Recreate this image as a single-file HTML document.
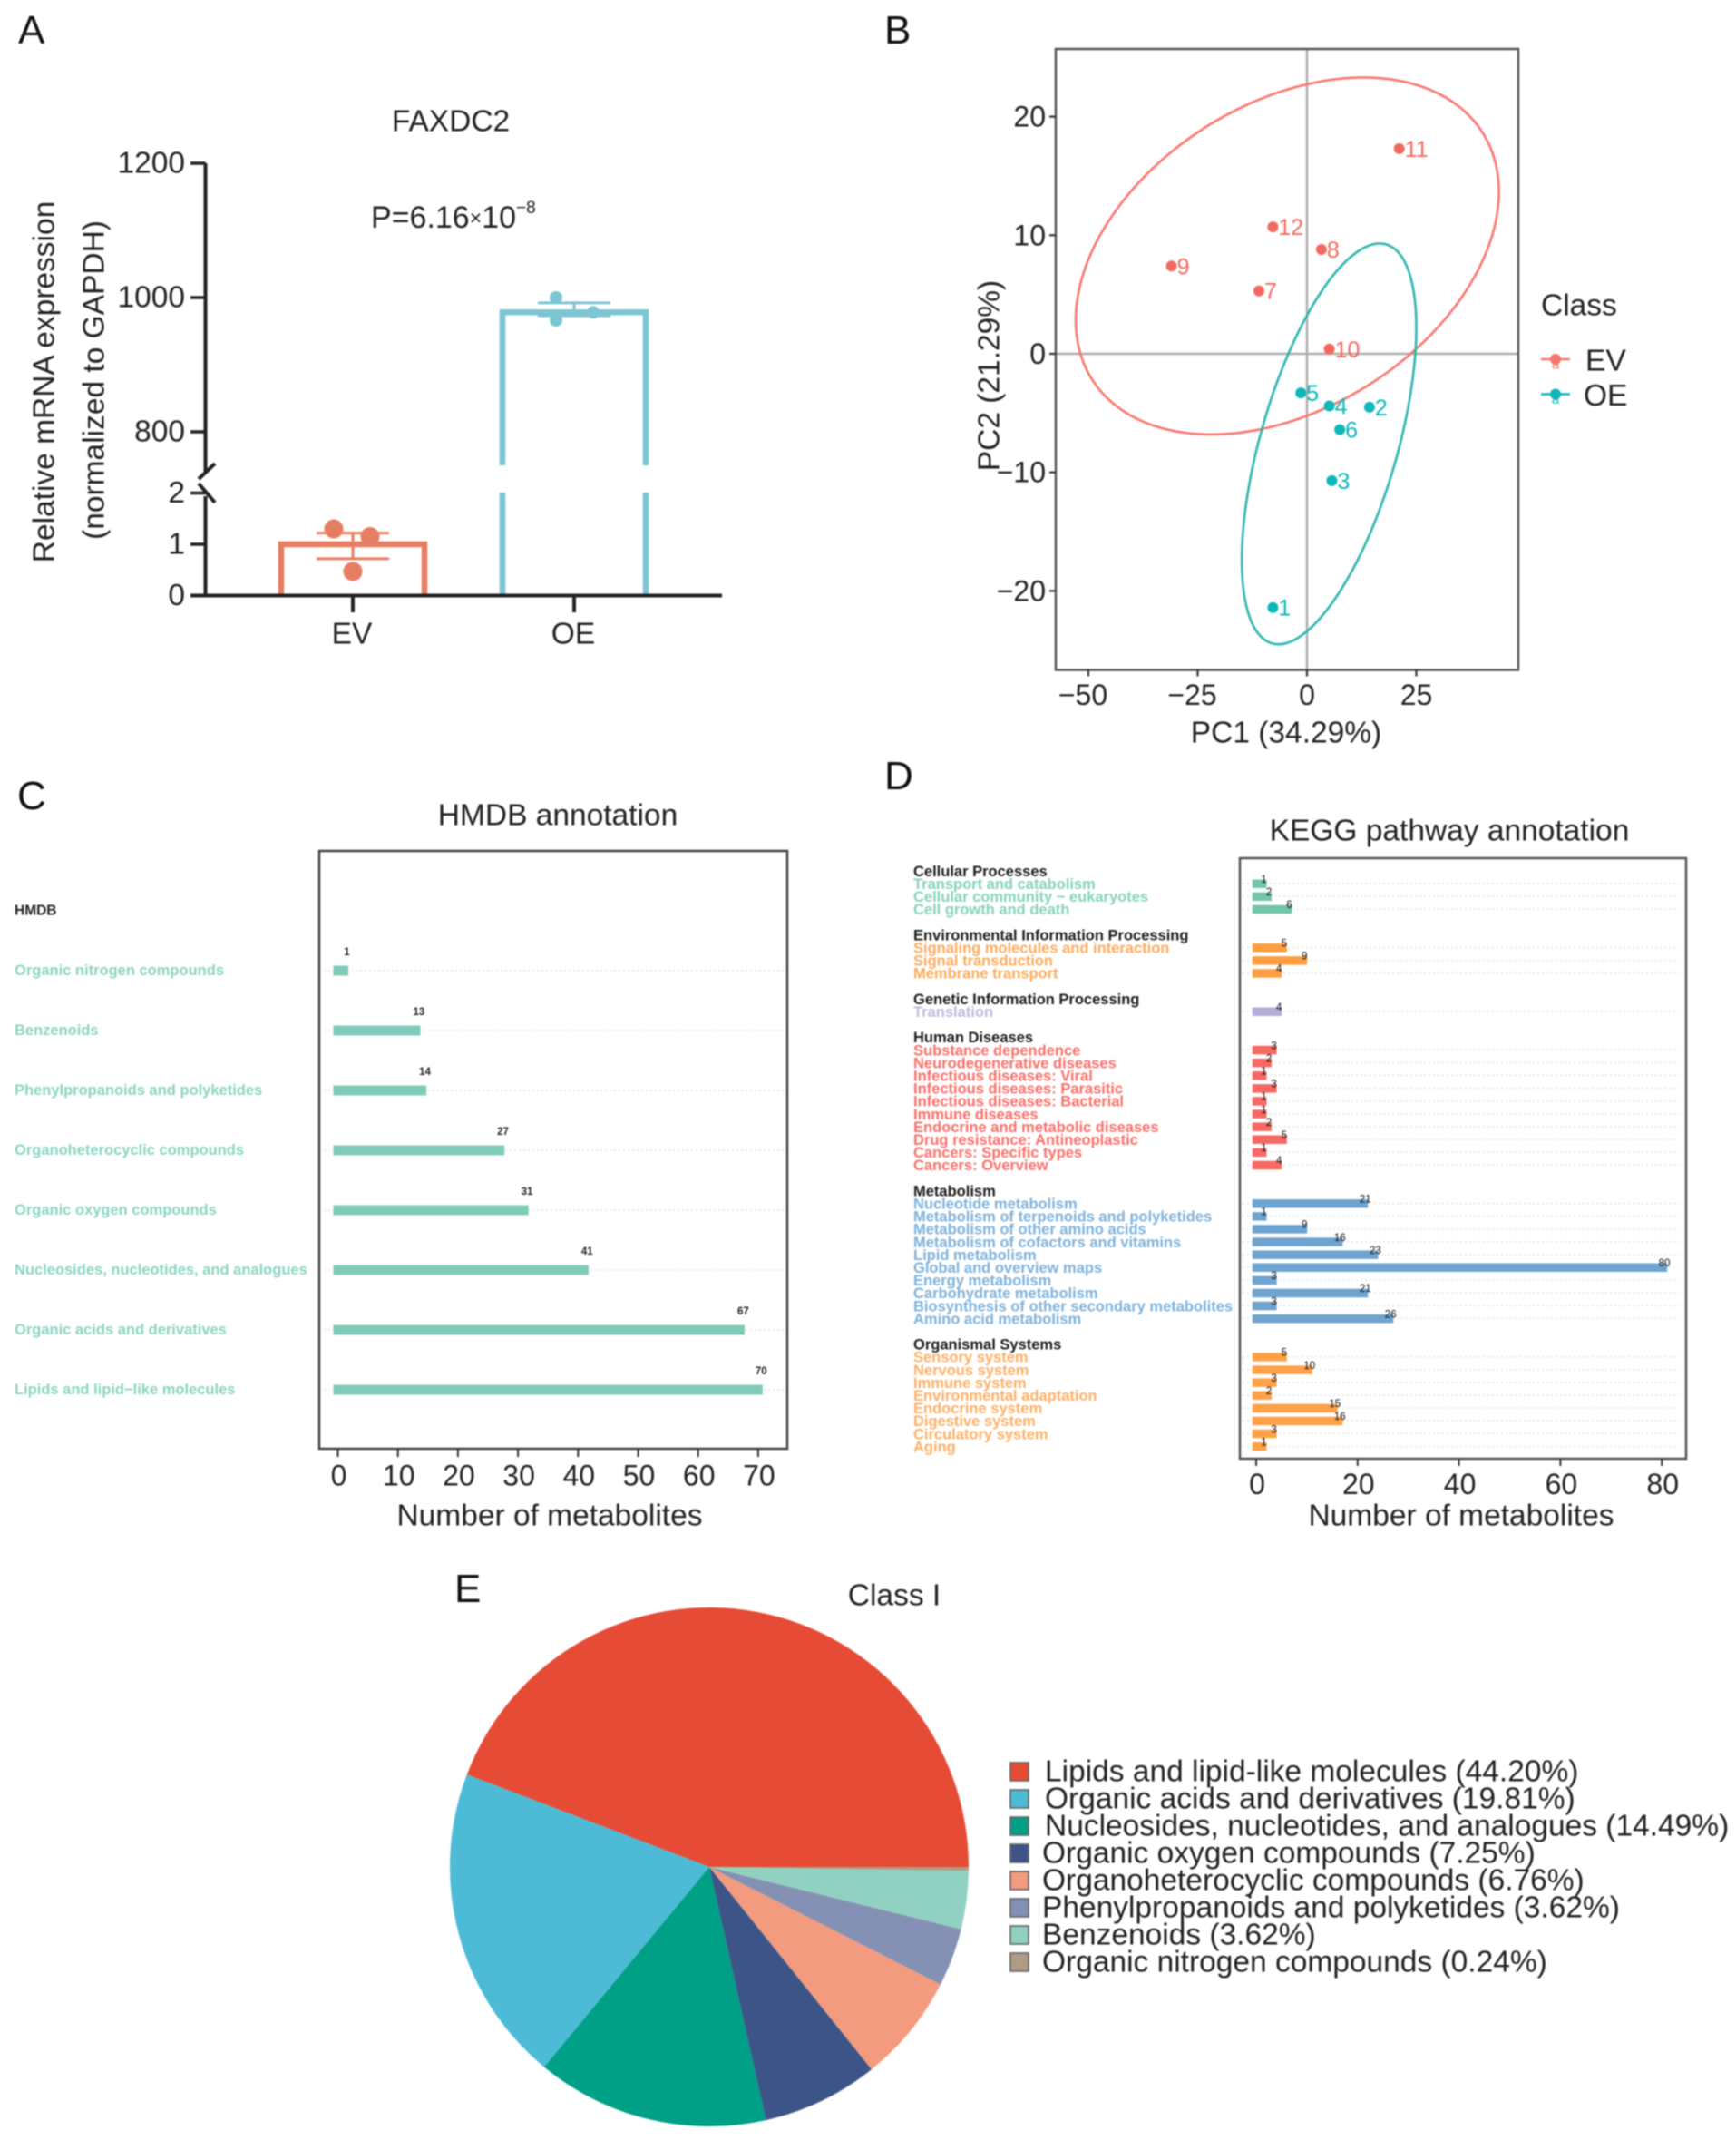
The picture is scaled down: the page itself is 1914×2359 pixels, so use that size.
<!DOCTYPE html>
<html lang="en">
<head>
<meta charset="utf-8">
<title>FAXDC2 metabolomics figure</title>
<style>
html,body{margin:0;padding:0;background:#fff;width:1914px;height:2359px;overflow:hidden}
svg{display:block;filter:blur(0.8px)}
text{font-family:"Liberation Sans",Arial,sans-serif;fill:#222}
.c{text-anchor:middle;dominant-baseline:central}
.r{text-anchor:end;dominant-baseline:central}
.l{text-anchor:start;dominant-baseline:central}
.letter{font-size:44px;fill:#111}
.t33{font-size:33.5px}
.t32{font-size:32px}
</style>
</head>
<body>
<svg id="figure" xmlns="http://www.w3.org/2000/svg" width="1914" height="2359" viewBox="0 0 1914 2359">
  <rect x="0" y="0" width="1914" height="2359" fill="#fff"/>

  <g id="panelA">
    <text class="letter" x="20" y="48">A</text>
    <text class="c t33" x="497" y="134">FAXDC2</text>
    <text class="l" font-size="34" x="409" y="240">P=6.16<tspan font-size="23">×</tspan>10<tspan font-size="19" dy="-11">−8</tspan></text>
    <text class="c t33" transform="translate(49,421) rotate(-90)">Relative mRNA expression</text>
    <text class="c t33" transform="translate(104,419) rotate(-90)">(normalized to GAPDH)</text>
  </g>

  <g id="panelB">
    <text class="letter" x="975" y="48">B</text>
    <text class="c t33" x="1418" y="808">PC1 (34.29%)</text>
    <text class="c t33" transform="translate(1091,414) rotate(-90)">PC2 (21.29%)</text>
    <text class="l t33" x="1699" y="337">Class</text>
  </g>

  <g id="panelC">
    <text class="letter" x="19" y="892">C</text>
    <text class="c t33" x="615" y="899">HMDB annotation</text>
    <text class="c t33" x="606" y="1671">Number of metabolites</text>
    <text class="l" x="16" y="1004" font-size="15.5" font-weight="bold">HMDB</text>
  </g>

  <g id="panelD">
    <text class="letter" x="975" y="870">D</text>
    <text class="c t33" x="1598" y="916">KEGG pathway annotation</text>
    <text class="c t33" x="1611" y="1671">Number of metabolites</text>
  </g>

  <g id="panelE">
    <text class="letter" x="501" y="1766">E</text>
    <text class="c t33" x="986" y="1759">Class I</text>
  </g>
</svg>

<script>
/* ---------- Panel A data ---------- */
const barCategories = ['EV', 'OE'];
const barMeans = [1, 978];
const barErrorLow = [0.72, 973];
const barErrorHigh = [1.22, 992];
const barReplicatesEV = [1.3, 1.15, 0.47];
const barReplicatesOE = [1000, 978, 966];
const barTicksLower = [0, 1, 2];
const barTicksUpper = [800, 1000, 1200];

/* ---------- Panel B data ---------- */
const pcaLabels = ['1', '2', '3', '4', '5', '6', '7', '8', '9', '10', '11', '12'];
const pcaClass = ['OE', 'OE', 'OE', 'OE', 'OE', 'OE', 'EV', 'EV', 'EV', 'EV', 'EV', 'EV'];
const pcaPC1 = [-7.8, 14.3, 5.7, 5.1, -1.4, 7.5, -11, 3.3, -31, 5.1, 21.1, -7.8];
const pcaPC2 = [-21.4, -4.5, -10.7, -4.4, -3.3, -6.4, 5.3, 8.8, 7.4, 0.4, 17.3, 10.7];
const pcaXTicks = [-50, -25, 0, 25];
const pcaYTicks = [-20, -10, 0, 10, 20];
const ellipseClasses = ['EV', 'OE'];
const ellipseCenterPC1 = [-4.5, 5.05];
const ellipseCenterPC2 = [8.25, -7.6];
const ellipseSpreadPC1 = [48.4, 19.95];
const ellipseSpreadPC2 = [15.05, 16.9];
const ellipseCorrelation = [0.36, 0.58];

/* ---------- Panel C data ---------- */
const hmdbCategories = ['Organic nitrogen compounds', 'Benzenoids', 'Phenylpropanoids and polyketides', 'Organoheterocyclic compounds', 'Organic oxygen compounds', 'Nucleosides, nucleotides, and analogues', 'Organic acids and derivatives', 'Lipids and lipid\u2212like molecules'];
const hmdbValues = [1, 13, 14, 27, 31, 41, 67, 70];
const hmdbTicks = [0, 10, 20, 30, 40, 50, 60, 70];

/* ---------- Panel D data ---------- */
const keggGroups = ['Cellular Processes', 'Environmental Information Processing', 'Genetic Information Processing', 'Human Diseases', 'Metabolism', 'Organismal Systems'];
const keggCellular = ['Transport and catabolism', 'Cellular community \u2212 eukaryotes', 'Cell growth and death'];
const keggCellularValues = [1, 2, 6];
const keggEnvironmental = ['Signaling molecules and interaction', 'Signal transduction', 'Membrane transport'];
const keggEnvironmentalValues = [5, 9, 4];
const keggGenetic = ['Translation'];
const keggGeneticValues = [4];
const keggHuman = ['Substance dependence', 'Neurodegenerative diseases', 'Infectious diseases: Viral', 'Infectious diseases: Parasitic', 'Infectious diseases: Bacterial', 'Immune diseases', 'Endocrine and metabolic diseases', 'Drug resistance: Antineoplastic', 'Cancers: Specific types', 'Cancers: Overview'];
const keggHumanValues = [3, 2, 1, 3, 1, 1, 2, 5, 1, 4];
const keggMetabolism = ['Nucleotide metabolism', 'Metabolism of terpenoids and polyketides', 'Metabolism of other amino acids', 'Metabolism of cofactors and vitamins', 'Lipid metabolism', 'Global and overview maps', 'Energy metabolism', 'Carbohydrate metabolism', 'Biosynthesis of other secondary metabolites', 'Amino acid metabolism'];
const keggMetabolismValues = [21, 1, 9, 16, 23, 80, 3, 21, 3, 26];
const keggOrganismal = ['Sensory system', 'Nervous system', 'Immune system', 'Environmental adaptation', 'Endocrine system', 'Digestive system', 'Circulatory system', 'Aging'];
const keggOrganismalValues = [5, 10, 3, 2, 15, 16, 3, 1];
const keggTicks = [0, 20, 40, 60, 80];

/* ---------- Panel E data ---------- */
const pieCategories = ['Lipids and lipid-like molecules', 'Organic acids and derivatives', 'Nucleosides, nucleotides, and analogues', 'Organic oxygen compounds', 'Organoheterocyclic compounds', 'Phenylpropanoids and polyketides', 'Benzenoids', 'Organic nitrogen compounds'];
const pieShares = [44.20, 19.81, 14.49, 7.25, 6.76, 3.62, 3.62, 0.24];

/* ---------- Palettes ---------- */
const piePalette = ['#E64B35', '#4DBBD5', '#00A087', '#3C5488', '#F39B7F', '#8491B4', '#91D1C2', '#B09C85'];
const keggBarPalette = ['#74c4ac', '#fd9f40', '#b3aed6', '#f56a62', '#6ea4cf', '#fda24a'];
const keggTextPalette = ['#86d3bd', '#fdac5c', '#c0bbe0', '#f8706a', '#7fb2da', '#fdb066'];

const NS = 'http://www.w3.org/2000/svg';
function mk(tag, attrs, parent, content) {
  const e = document.createElementNS(NS, tag);
  for (const k in attrs) e.setAttribute(k, attrs[k]);
  if (content !== undefined) e.textContent = content;
  parent.appendChild(e);
  return e;
}

/* ========== Panel A ========== */
(function () {
  const g = document.getElementById('panelA');
  const ink = '#222';
  const evColor = '#e67e63';
  const oeColor = '#7cc5d3';
  const axisX = 226.5;
  const baseY = 656.5;
  const y = function (v) {
    return v <= 2 ? baseY - v * 56.5 : 476 - (v - 800) * 0.74;
  };
  const x = function (i) { return 389 + 244 * i; };
  const half = 79;
  const colors = [evColor, oeColor];

  barCategories.forEach(function (c, i) {
    const xl = x(i) - half, xr = x(i) + half, top = y(barMeans[i]);
    let d;
    if (barMeans[i] > 2) {
      d = 'M' + xl + ' ' + baseY + 'V543 M' + xl + ' 513 V' + top + 'H' + xr + 'V513 M' + xr + ' 543 V' + baseY;
    } else {
      d = 'M' + xl + ' ' + baseY + 'V' + top + 'H' + xr + 'V' + baseY;
    }
    const bar = mk('path', { d: d, fill: 'none', stroke: colors[i], 'stroke-width': 6.5 }, g);
    
    

    const lo = y(barErrorLow[i]), hi = y(barErrorHigh[i]);
    const err = mk('path', { d: 'M' + (x(i) - 40) + ' ' + hi + 'H' + (x(i) + 40) + 'M' + (x(i) - 40) + ' ' + lo + 'H' + (x(i) + 40) + 'M' + x(i) + ' ' + hi + 'V' + lo, fill: 'none', stroke: colors[i], 'stroke-width': 3 }, g);
    
    

    const tick = mk('line', { x1: x(i), x2: x(i), y1: baseY, y2: 675, stroke: ink, 'stroke-width': 4 }, g);
    
    

    const lab = mk('text', { class: 'c t33', x: x(i) - 1, y: 699 }, g, c);
    
    
  });

  const offsetsEV = [-21, 19, 0];
  const offsetsOE = [-20, 21, -20];
  barReplicatesEV.forEach(function (v, i) {
    const p = mk('circle', { cx: x(0) + offsetsEV[i], cy: y(v), r: 10.5, fill: evColor }, g);
    
    
  });
  barReplicatesOE.forEach(function (v, i) {
    const p = mk('circle', { cx: x(1) + offsetsOE[i], cy: y(v), r: 7, fill: oeColor }, g);
    
    
  });

  const axis = mk('path', { d: 'M' + axisX + ' 180V521M' + axisX + ' 547V' + baseY + 'M210 ' + baseY + 'H796', fill: 'none', stroke: ink, 'stroke-width': 4 }, g);
  
  
  const brk = mk('path', { d: 'M219 528L237 511M219 533L237 554', fill: 'none', stroke: ink, 'stroke-width': 4 }, g);
  
  

  barTicksUpper.concat(barTicksLower).forEach(function (v) {
    const t = mk('line', { x1: 210, x2: axisX, y1: y(v), y2: y(v), stroke: ink, 'stroke-width': 3.5 }, g);
    
    
    const l = mk('text', { class: 'r t33', x: 204, y: y(v) }, g, String(v));
    
    
  });
})();

/* ========== Panel B ========== */
(function () {
  const g = document.getElementById('panelB');
  const x = function (v) { return 1441 + 4.82 * v; };
  const y = function (v) { return 390 - 13.07 * v; };
  const left = 1164, right = 1674, top = 54, bottom = 738.5;
  const classColor = { EV: '#f4695f', OE: '#0db7bb' };
  const ellipseColor = { EV: '#f8766d', OE: '#2fb5ad' };

  const h = mk('line', { x1: left, x2: right, y1: y(0), y2: y(0), stroke: '#aeaeae', 'stroke-width': 2.5 }, g);
  
  
  const v0 = mk('line', { x1: x(0), x2: x(0), y1: top, y2: bottom, stroke: '#aeaeae', 'stroke-width': 2.5 }, g);
  
  

  ellipseClasses.forEach(function (c, i) {
    const delta = Math.acos(ellipseCorrelation[i]);
    let d = '';
    for (let k = 0; k <= 180; k++) {
      const t = k / 180 * 2 * Math.PI;
      const px = x(ellipseCenterPC1[i] + ellipseSpreadPC1[i] * Math.cos(t));
      const py = y(ellipseCenterPC2[i] + ellipseSpreadPC2[i] * Math.cos(t + delta));
      d += (k ? 'L' : 'M') + px.toFixed(1) + ' ' + py.toFixed(1);
    }
    const e = mk('path', { d: d + 'Z', fill: 'none', stroke: ellipseColor[c], 'stroke-width': 2.6 }, g);
    
    
  });

  pcaLabels.forEach(function (lab, i) {
    const c = classColor[pcaClass[i]];
    const p = mk('circle', { cx: x(pcaPC1[i]), cy: y(pcaPC2[i]), r: 6, fill: c }, g);
    
    
    const t = mk('text', { class: 'l', x: x(pcaPC1[i]) + 6, y: y(pcaPC2[i]) + 1, 'font-size': 25 }, g, lab);
    t.style.fill = c;
    
    
  });

  const frame = mk('rect', { x: left, y: top, width: right - left, height: bottom - top, fill: 'none', stroke: '#555', 'stroke-width': 2.5 }, g);
  
  

  pcaXTicks.forEach(function (v) {
    const t = mk('line', { x1: x(v), x2: x(v), y1: bottom, y2: bottom + 7, stroke: '#333', 'stroke-width': 2.2 }, g);
    
    
    const l = mk('text', { class: 'c t32', x: x(v) - (v < 0 ? 6 : 0), y: 766 }, g, v < 0 ? '\u2212' + Math.abs(v) : String(v));
    
    
  });
  pcaYTicks.forEach(function (v) {
    const t = mk('line', { x1: left - 7, x2: left, y1: y(v), y2: y(v), stroke: '#333', 'stroke-width': 2.2 }, g);
    
    
    const l = mk('text', { class: 'r t32', x: left - 11, y: y(v) }, g, v < 0 ? '\u2212' + Math.abs(v) : String(v));
    
    
  });

  ellipseClasses.forEach(function (c, i) {
    const ky = 396 + 38.5 * i;
    const col = i === 0 ? ellipseColor.EV : classColor.OE;
    const ln = mk('line', { x1: 1699, x2: 1731, y1: ky, y2: ky, stroke: col, 'stroke-width': 2.5 }, g);
    
    
    const pt = mk('circle', { cx: 1715, cy: ky, r: 6, fill: col }, g);
    
    
    const a = mk('text', { class: 'c', x: 1715, y: ky + 6, 'font-size': 15 }, g, 'a');
    a.style.fill = col;
    
    
    const tx = mk('text', { class: 'l t33', x: i === 0 ? 1748 : 1746, y: ky + 2 }, g, c);
    
    
  });
})();

/* ========== Panel C ========== */
(function () {
  const g = document.getElementById('panelC');
  const x = function (v) { return 372.5 + 6.62 * v; };
  const y = function (i) { return 1070 + 66 * i; };
  const left = 352, right = 868, top = 938, bottom = 1597;

  hmdbCategories.forEach(function (c, i) {
    const grid = mk('line', { x1: left + 5, x2: right - 4, y1: y(i), y2: y(i), stroke: '#e2e2e2', 'stroke-width': 1.6, 'stroke-dasharray': '2 3' }, g);
    
    
    const b = mk('rect', { x: x(-0.75), y: y(i) - 5.5, width: x(hmdbValues[i] + 0.75) - x(-0.75), height: 11, fill: '#80cbb8' }, g);
    
    
    const v = mk('text', { class: 'c', x: x(hmdbValues[i] + 0.5), y: y(i) - 20, 'font-size': 11.5, 'font-weight': 'bold' }, g, String(hmdbValues[i]));
    
    
    const l = mk('text', { class: 'l', x: 16, y: y(i), 'font-size': 16.5, 'font-weight': 'bold' }, g, c);
    l.style.fill = '#8ad5c2';
    
    
  });

  const frame = mk('rect', { x: left, y: top, width: right - left, height: bottom - top, fill: 'none', stroke: '#444', 'stroke-width': 2.5 }, g);
  
  

  hmdbTicks.forEach(function (v) {
    const t = mk('line', { x1: x(v), x2: x(v), y1: bottom, y2: bottom + 9, stroke: '#333', 'stroke-width': 2 }, g);
    
    
    const l = mk('text', { class: 'c t32', x: x(v) + 1, y: 1626.5 }, g, String(v));
    
    
  });
})();

/* ========== Panel D ========== */
(function () {
  const g = document.getElementById('panelD');
  const x = function (v) { return 1385 + 5.59 * v; };
  const y = function (i) { return 974 + 14.1 * i; };
  const left = 1367, right = 1859, top = 946, bottom = 1608;
  const items = [keggCellular, keggEnvironmental, keggGenetic, keggHuman, keggMetabolism, keggOrganismal];
  const values = [keggCellularValues, keggEnvironmentalValues, keggGeneticValues, keggHumanValues, keggMetabolismValues, keggOrganismalValues];

  let row = 0;
  keggGroups.forEach(function (name, gi) {
    const h = mk('text', { class: 'l', x: 1007, y: y(row - 1) + 1, 'font-size': 16.5, 'font-weight': 'bold' }, g, name);
    h.style.fill = '#1c1c1c';
    
    
    items[gi].forEach(function (label, k) {
      const val = values[gi][k];
      const grid = mk('line', { x1: left + 3, x2: right - 8, y1: y(row), y2: y(row), stroke: '#e0e0e0', 'stroke-width': 1.4, 'stroke-dasharray': '2 3' }, g);
      
      
      const b = mk('rect', { x: x(-0.75), y: y(row) - 4.5, width: x(val + 1.05) - x(-0.75), height: 9.5, fill: keggBarPalette[gi] }, g);
      
      
      const v = mk('text', { class: 'c', x: x(val + 1.05) - 3, y: y(row) - 4, 'font-size': 11.5 }, g, String(val));
      v.style.fill = '#111';
      
      
      const l = mk('text', { class: 'l', x: 1007, y: y(row) + 1, 'font-size': 16.5, 'font-weight': 'bold' }, g, label);
      l.style.fill = keggTextPalette[gi];
      
      
      row++;
    });
    row += 2;
  });

  const frame = mk('rect', { x: left, y: top, width: right - left, height: bottom - top, fill: 'none', stroke: '#555', 'stroke-width': 2.5 }, g);
  
  

  keggTicks.forEach(function (v) {
    const t = mk('line', { x1: x(v), x2: x(v), y1: bottom, y2: bottom + 8, stroke: '#333', 'stroke-width': 2 }, g);
    
    
    const l = mk('text', { class: 'c t32', x: x(v) + 1, y: 1636 }, g, String(v));
    
    
  });
})();

/* ========== Panel E ========== */
(function () {
  const g = document.getElementById('panelE');
  const cx = 782, cy = 2058, R = 286;
  const total = pieShares.reduce(function (a, b) { return a + b; }, 0);
  let acc = 0;
  pieShares.forEach(function (s, i) {
    const a0 = acc / total * 2 * Math.PI;
    acc += s;
    const a1 = acc / total * 2 * Math.PI;
    const large = (a1 - a0) > Math.PI ? 1 : 0;
    const d = 'M' + cx + ' ' + cy +
      'L' + (cx + R * Math.cos(a0)).toFixed(2) + ' ' + (cy - R * Math.sin(a0)).toFixed(2) +
      'A' + R + ' ' + R + ' 0 ' + large + ' 0 ' + (cx + R * Math.cos(a1)).toFixed(2) + ' ' + (cy - R * Math.sin(a1)).toFixed(2) + 'Z';
    const slice = mk('path', { d: d, fill: piePalette[i] }, g);
    
    

    const ly = 1953 + 30.0 * i;
    const sw = mk('rect', { x: 1114, y: ly - 10, width: 20, height: 20, fill: piePalette[i], stroke: '#666', 'stroke-width': 1.6 }, g);
    
    
    const t = mk('text', { class: 'l t33', x: i < 3 ? 1152 : 1149, y: ly }, g, pieCategories[i] + ' (' + s.toFixed(2) + '%)');
    
    
  });
})();
</script>
</body>
</html>
